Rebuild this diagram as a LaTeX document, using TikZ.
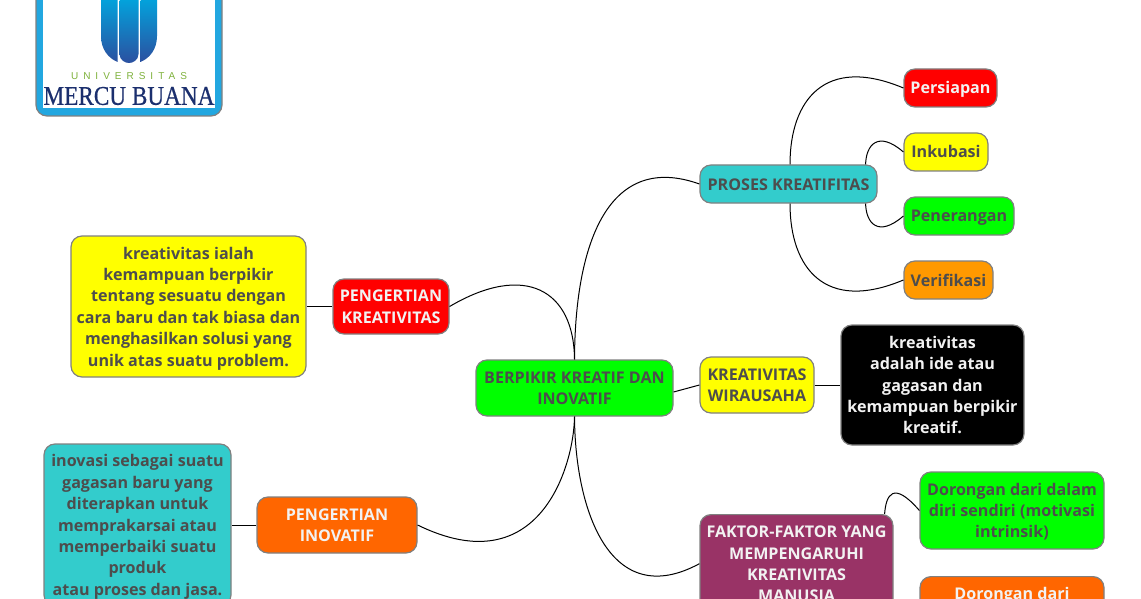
\documentclass[tikz,border=0pt]{standalone}
\usepackage{fontspec}
\setmainfont{Open Sans}
\newfontfamily\logoserif[FakeBold=0.6]{Liberation Serif}
\newfontfamily\logosans[LetterSpace=50]{Liberation Sans}
\newcommand\linestrut{\rule[-4pt]{0pt}{20pt}}
\newcommand\topstrut{\rule{0pt}{16pt}}
\newcommand\botstrut{\rule[-4pt]{0pt}{4pt}}
\definecolor{ink}{HTML}{4D4D4D}
\definecolor{pale}{HTML}{F2F2F2}
\definecolor{edge}{HTML}{808080}
\definecolor{teal}{HTML}{33CCCC}
\definecolor{tango}{HTML}{FF6600}
\definecolor{amber}{HTML}{FF9900}
\definecolor{maroon}{HTML}{993366}
\definecolor{lemon}{HTML}{FFFF00}
\definecolor{lime}{HTML}{00FF00}
\definecolor{scarlet}{HTML}{FF0000}
\definecolor{logoblue}{HTML}{22A7E0}
\definecolor{logonavy}{HTML}{1B2F6E}
\definecolor{logogreen}{HTML}{7FB23C}
\definecolor{logotop}{HTML}{00A8E0}
\definecolor{logomid}{HTML}{1F75BE}
\definecolor{logobot}{HTML}{2B50A0}
\tikzset{
  topic/.style={draw=edge,line width=1.2pt,rounded corners=11pt,inner sep=0pt,align=center,
    font=\fontsize{16.1}{21.4}\selectfont\bfseries,text=ink},
  oneline/.style={execute at begin node=\linestrut},
  lighttext/.style={text=pale},
  link/.style={draw=black,line width=1pt},
  lobe/.style={top color=logotop,middle color=logomid,bottom color=logobot,draw=none},
}
\begin{document}
\begin{tikzpicture}[x=1pt,y=-1pt]
\useasboundingbox (0,0) rectangle (1141,599);
\clip (0,0) rectangle (1141,599);
% logo
\draw[edge,line width=1.2pt,fill=logoblue,rounded corners=11pt] (36,-20) rectangle (222,116);
\fill[white] (43,-20) rectangle (215,108);
\shade[lobe] (101,-5) -- (101,36) .. controls (101,49) and (108,58) .. (117.5,62) -- (117.5,-5) -- cycle;
\shade[lobe] (119.5,-5) -- (119.5,54) .. controls (119.5,60) and (125,63) .. (129,63) .. controls (133,63) and (138.5,60) .. (138.5,54) -- (138.5,-5) -- cycle;
\shade[lobe] (157,-5) -- (157,36) .. controls (157,49) and (150,58) .. (140.5,62) -- (140.5,-5) -- cycle;
\node[inner sep=0pt,text=logogreen,font=\fontsize{10}{10}\logosans] (univ) at (129,76) {UNIVERSITAS};
\node[inner sep=0pt,text=logonavy,font=\fontsize{27}{28}\logoserif] (mercu) at (129,96) {\scalebox{0.86}[1]{MERCU BUANA}};
% nodes
\node[topic,fill=lime,minimum width=197pt,minimum height=56pt] (central) at (574.5,388) {\topstrut BERPIKIR KREATIF DAN\\INOVATIF\botstrut};
\node[topic,lighttext,fill=scarlet,minimum width=116pt,minimum height=55pt] (pk) at (391,306.5) {\topstrut PENGERTIAN\\KREATIVITAS\botstrut};
\node[topic,fill=lemon,minimum width=235pt,minimum height=141pt] (kdef) at (188.5,306.5) {\topstrut kreativitas ialah\\kemampuan berpikir\\tentang sesuatu dengan\\cara baru dan tak biasa dan\\menghasilkan solusi yang\\unik atas suatu problem.\botstrut};
\node[topic,lighttext,fill=tango,minimum width=160pt,minimum height=56pt] (pi) at (337,525) {\topstrut PENGERTIAN\\INOVATIF\botstrut};
\node[topic,fill=teal,minimum width=187pt,minimum height=162pt] (idef) at (137.5,525) {\topstrut inovasi sebagai suatu\\gagasan baru yang\\diterapkan untuk\\memprakarsai atau\\memperbaiki suatu\\produk\\atau proses dan jasa.\botstrut};
\node[topic,oneline,fill=teal,minimum width=177pt,minimum height=38pt] (proses) at (788.5,184) {PROSES KREATIFITAS};
\node[topic,oneline,lighttext,fill=scarlet,minimum width=93pt,minimum height=38pt] (persiapan) at (950.5,88) {Persiapan};
\node[topic,oneline,fill=lemon,minimum width=84pt,minimum height=38pt] (inkubasi) at (946,152) {Inkubasi};
\node[topic,oneline,fill=lime,minimum width=110pt,minimum height=38pt] (penerangan) at (959,216) {Penerangan};
\node[topic,oneline,fill=amber,minimum width=89pt,minimum height=38pt] (verifikasi) at (948.5,280) {Verifikasi};
\node[topic,fill=lemon,minimum width=114pt,minimum height=56pt] (kw) at (757,385) {\topstrut KREATIVITAS\\WIRAUSAHA\botstrut};
\node[topic,lighttext,fill=black,minimum width=183pt,minimum height=120pt] (kwdef) at (932.5,385) {\topstrut kreativitas\\adalah ide atau\\gagasan dan\\kemampuan berpikir\\kreatif.\botstrut};
\node[topic,lighttext,fill=maroon,minimum width=193pt,anchor=north,inner ysep=7pt] (faktor) at (796.5,514) {\topstrut FAKTOR-FAKTOR YANG\\MEMPENGARUHI\\KREATIVITAS\\MANUSIA\botstrut};
\node[topic,fill=lime,minimum width=184pt,minimum height=77pt] (intrinsik) at (1012,510.5) {\topstrut Dorongan dari dalam\\diri sendiri (motivasi\\intrinsik)\botstrut};
\node[topic,oneline,lighttext,fill=tango,minimum width=184pt,anchor=north,inner ysep=7pt] (luar) at (1012,576) {Dorongan dari};
% connectors
\draw[link] (central.north) .. controls (575,240) and (610,152) .. (proses.west);
\draw[link] ([yshift=-4pt]central.east) -- (kw.west);
\draw[link] (kw.east) -- (kwdef.west);
\draw[link] (central.south) .. controls (575,510) and (610,612) .. (faktor.west);
\draw[link] (central.north) .. controls (574,290) and (525,262) .. (pk.east);
\draw[link] (central.south) .. controls (574,465) and (540,585) .. (pi.east);
\draw[link] (pk.west) -- (kdef.east);
\draw[link] (pi.west) -- (idef.east);
\draw[link] ([xshift=1.5pt]proses.north) .. controls (790,100) and (825,55) .. (persiapan.west);
\draw[link] ([xshift=-12pt]proses.north east) .. controls (866,145) and (878,130) .. (inkubasi.west);
\draw[link] ([xshift=-12pt]proses.south east) .. controls (866,223) and (878,238) .. (penerangan.west);
\draw[link] ([xshift=1.5pt]proses.south) .. controls (790,268) and (825,313) .. (verifikasi.west);
\draw[link] ([xshift=-9pt]faktor.north east) .. controls (886,495) and (893,480) .. (intrinsik.west);
\end{tikzpicture}
\end{document}
